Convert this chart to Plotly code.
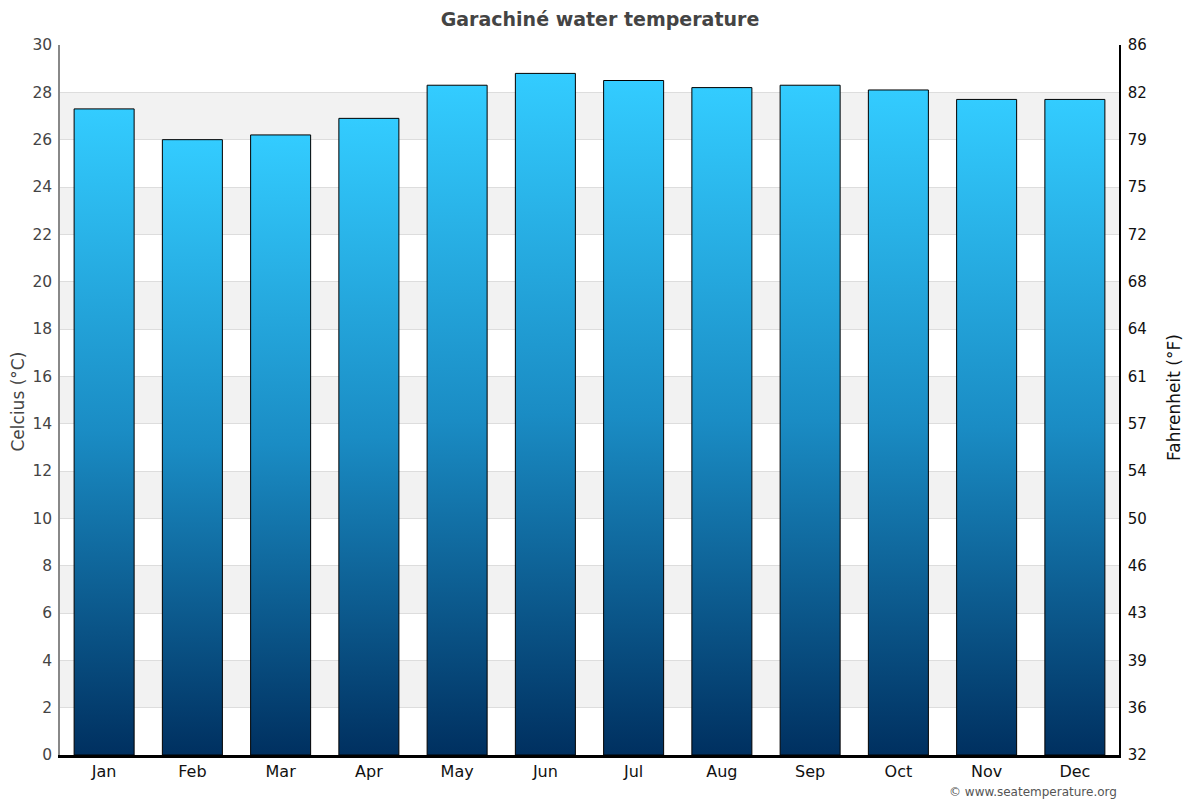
import plotly.graph_objects as go

months = ["Jan", "Feb", "Mar", "Apr", "May", "Jun", "Jul", "Aug", "Sep", "Oct", "Nov", "Dec"]
water_temp_c = [27.3, 26.0, 26.2, 26.9, 28.3, 28.8, 28.5, 28.2, 28.3, 28.1, 27.7, 27.7]
celsius_ticks = list(range(0, 31, 2))
fahrenheit_ticks = [c * 1.8 + 32 for c in celsius_ticks]
fahrenheit_labels = [str(round(f)) for f in fahrenheit_ticks]

FONT = "DejaVu Sans"
BAR_HALF = 0.34

fig = go.Figure()

for i, (m, v) in enumerate(zip(months, water_temp_c)):
    fig.add_trace(go.Scatter(
        x=[i - BAR_HALF, i + BAR_HALF, i + BAR_HALF, i - BAR_HALF, i - BAR_HALF],
        y=[0, 0, v, v, 0],
        mode="lines",
        fill="toself",
        fillgradient=dict(type="vertical",
                          colorscale=[[0, "#003060"], [0.5, "#1a8cc4"], [1, "#33ccff"]],
                          start=0, stop=v),
        line=dict(color="black", width=1),
        name=m,
        hoverinfo="text",
        text=f"{m}: {v}°C",
        showlegend=False,
    ))

# invisible trace to show the Fahrenheit axis
fig.add_trace(go.Scatter(x=[0], y=[32], yaxis="y2", mode="markers",
                         marker=dict(opacity=0), hoverinfo="skip", showlegend=False))

shapes = []
for c in celsius_ticks[1:-1:2]:
    shapes.append(dict(type="rect", xref="paper", yref="y", x0=0, x1=1, y0=c, y1=c + 2,
                       fillcolor="#f2f2f2", line=dict(width=0), layer="below"))

W, H = 1192, 792
PW = 1059.0
PH = 710.0
fig.update_layout(
    width=W, height=H,
    margin=dict(l=52, r=81, t=37, b=45),
    paper_bgcolor="white", plot_bgcolor="white",
    font=dict(family=FONT),
    title=dict(text="<b>Garachiné water temperature</b>", xref="paper",
               x=(600 - 60) / PW, xanchor="center",
               y=1 - 11 / H, yanchor="middle",
               font=dict(family=FONT, size=19, color="#444444")),
    xaxis=dict(range=[-0.5, 11.5], tickmode="array", tickvals=list(range(12)), ticktext=months,
               showgrid=False, zeroline=False, showline=True, linecolor="black", linewidth=2.5,
               ticks="", tickfont=dict(family=FONT, size=16, color="#111111")),
    yaxis=dict(range=[0, 30], tickmode="array", tickvals=celsius_ticks,
               showgrid=True, gridcolor="#dddddd", gridwidth=1, zeroline=False,
               showline=True, linecolor="#888888", linewidth=1.5, ticks="",
               ticklabelstandoff=3,
               tickfont=dict(family=FONT, size=15.5, color="#444444")),
    yaxis2=dict(range=[32, 86], overlaying="y", side="right", tickmode="array",
                tickvals=fahrenheit_ticks, ticktext=fahrenheit_labels,
                showgrid=False, zeroline=False, showline=True, linecolor="black", linewidth=1.5,
                ticks="", ticklabelstandoff=4,
                tickfont=dict(family=FONT, size=15, color="#111111")),
    shapes=shapes,
    annotations=[
        dict(text="© www.seatemperature.org", xref="paper", yref="paper",
             x=(1119 - 60) / PW, y=-37 / PH, xanchor="right", yanchor="middle", showarrow=False,
             font=dict(family=FONT, size=12, color="#555555")),
        dict(text="Celcius (°C)", xref="paper", yref="paper", textangle=-90,
             x=(17.5 - 60) / PW, y=(755 - 402) / PH, xanchor="center", yanchor="middle",
             showarrow=False, font=dict(family=FONT, size=17, color="#444444")),
        dict(text="Fahrenheit (°F)", xref="paper", yref="paper", textangle=-90,
             x=(1174 - 60) / PW, y=(755 - 398) / PH, xanchor="center", yanchor="middle",
             showarrow=False, font=dict(family=FONT, size=17, color="#111111")),
    ],
)

fig.write_html("out.html")
